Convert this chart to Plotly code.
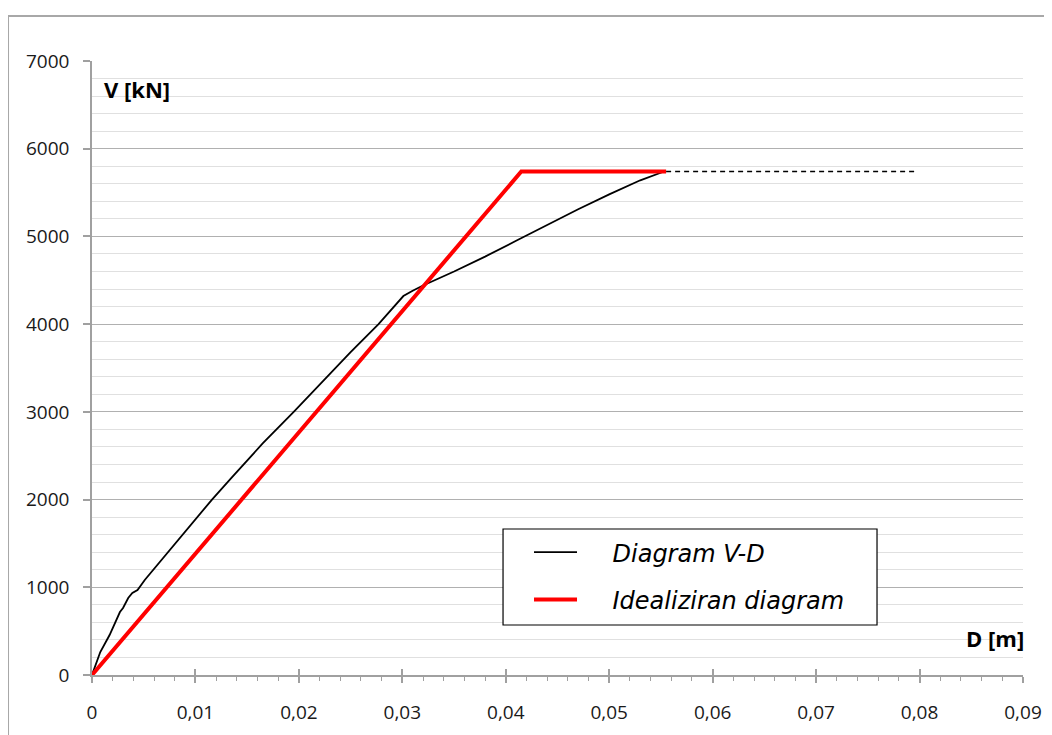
import plotly.graph_objects as go

# diagram V-D (pushover curve)
d_vd = [0, 0.0008, 0.0017, 0.0027, 0.003, 0.0035, 0.0039, 0.0044, 0.0051, 0.0065,
        0.008, 0.0095, 0.0116, 0.0135, 0.0165, 0.0195, 0.022, 0.025, 0.0277, 0.0293,
        0.0301, 0.031, 0.032, 0.035, 0.038, 0.041, 0.044, 0.047, 0.050, 0.053, 0.0553]
v_vd = [0, 262, 456, 718, 764, 878, 935, 969, 1083, 1280,
        1490, 1700, 2000, 2250, 2640, 3000, 3310, 3680, 4000, 4210,
        4320, 4380, 4440, 4600, 4770, 4950, 5130, 5310, 5480, 5640, 5740]

# idealizirani (bilinearni) dijagram
d_ideal = [0, 0.0415, 0.0555]
v_ideal = [0, 5740, 5740]

# nastavak platoa
d_plato = [0.0555, 0.0797]
v_plato = [5740, 5740]

font_fam = "Open Sans"
sp = '\u00a0'

fig = go.Figure()
fig.add_trace(go.Scatter(x=d_vd, y=v_vd, mode='lines', name=sp * 4 + 'Diagram V-D',
                         line=dict(color='black', width=1.8), legendgroup='a'))
fig.add_trace(go.Scatter(x=d_ideal, y=v_ideal, mode='lines',
                         name=sp * 4 + 'Idealiziran diagram',
                         line=dict(color='#ff0000', width=4), legendgroup='b'))
fig.add_trace(go.Scatter(x=d_plato, y=v_plato, mode='lines', showlegend=False,
                         line=dict(color='black', width=1.5, dash='5px,4px')))
# pomocna os za glavne crtice koje sijeku os x
fig.add_trace(go.Scatter(x=[0], y=[0], xaxis='x2', mode='none', showlegend=False,
                         hoverinfo='skip'))

# stranica ima 8 px margine, pa je slika za toliko manja
fig.update_layout(
    width=1044, height=727,
    margin=dict(l=84, r=29, t=53, b=60, autoexpand=False),
    paper_bgcolor='white', plot_bgcolor='white',
    separators=',.',
    font=dict(family=font_fam, size=19, color='#1a1a1a'),
    xaxis=dict(range=[0, 0.09], dtick=0.01, tick0=0, showgrid=False, zeroline=False,
               automargin=False,
               showline=True, linecolor='#a0a0a0', linewidth=1.5,
               ticks='outside', ticklen=6, tickcolor='#a0a0a0', tickwidth=1.5,
               ticklabelstandoff=13,
               minor=dict(dtick=0.002, ticks='outside', ticklen=4, tickcolor='#a0a0a0',
                          tickwidth=1, showgrid=False)),
    xaxis2=dict(overlaying='x', matches='x', range=[0, 0.09], dtick=0.01, tick0=0,
                showgrid=False, zeroline=False, showticklabels=False, automargin=False,
                ticks='inside', ticklen=6, tickcolor='#a0a0a0', tickwidth=1.5,
                anchor='y', side='bottom'),
    yaxis=dict(range=[0, 7000], dtick=1000, tick0=0, showgrid=True, automargin=False,
               gridcolor='#b0b0b0', gridwidth=1.2, zeroline=False,
               showline=True, linecolor='#a0a0a0', linewidth=1.5,
               ticks='outside', ticklen=7, tickcolor='#a0a0a0', tickwidth=1.5,
               ticklabelstandoff=10,
               minor=dict(dtick=200, showgrid=True, gridcolor='#e0e0e0', gridwidth=1.2,
                          ticks='')),
    legend=dict(x=0.4694, y=0.236, xanchor='left', yanchor='top',
                bgcolor='rgba(0,0,0,0)', borderwidth=0,
                font=dict(family="DejaVu Sans", size=24, color='black', style='italic'),
                itemwidth=43, tracegroupgap=13, traceorder='grouped'),
    showlegend=True,
)

fig.add_annotation(text='<b>V [kN]</b>', x=0.011, y=0.955, xref='paper', yref='paper',
                   xanchor='left', yanchor='middle', showarrow=False,
                   font=dict(family=font_fam, size=22, color='black'))
fig.add_annotation(text='<b>D [m]</b>', x=1.003, y=0.06, xref='paper', yref='paper',
                   xanchor='right', yanchor='middle', showarrow=False,
                   font=dict(family=font_fam, size=22, color='black'))

# okvir legende
fig.add_shape(type='rect', xref='paper', yref='paper', x0=0.4415, x1=0.8432, y0=0.0814, y1=0.2378,
              line=dict(color='black', width=1.2), fillcolor='white', layer='above')

# okvir grafikona
fig.add_shape(type='rect', xref='paper', yref='paper', x0=-0.0902, x1=1.2, y0=-0.3, y1=1.0733,
              line=dict(color='#a8a8a8', width=2), layer='below')

fig.write_html("out.html")
